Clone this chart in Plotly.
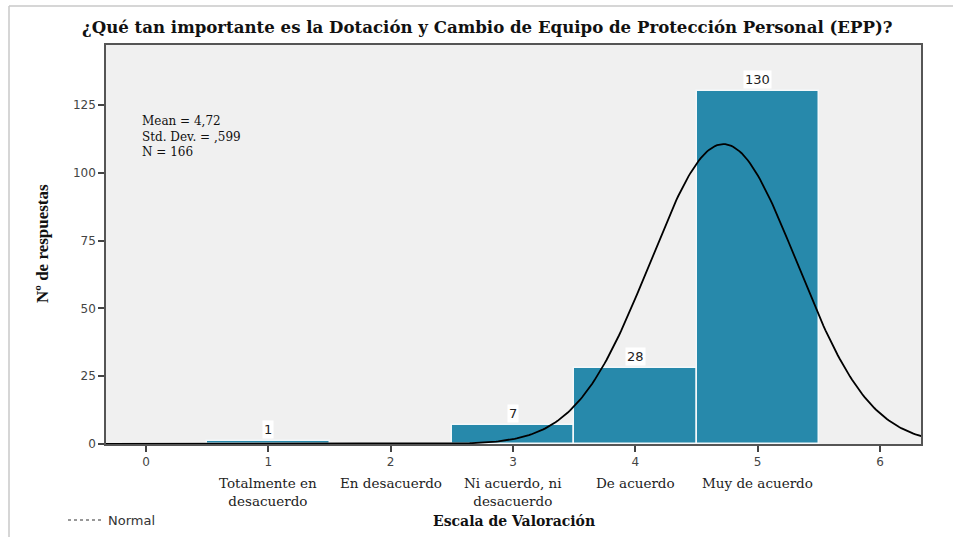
import numpy as np
import plotly.graph_objects as go

# Frequencies per rating level
levels = [1, 2, 3, 4, 5]
level_names = ["Totalmente en<br>desacuerdo", "En desacuerdo",
               "Ni acuerdo, ni<br>desacuerdo", "De acuerdo", "Muy de acuerdo"]
counts = [1, 0, 7, 28, 130]

# Summary statistics of the responses
mean_val = 4.72
std_val = 0.599
n_total = 166

W, H = 953, 537
ML, MR, MT, MB = 106, 32, 45, 93
PW, PH = W - ML - MR, H - MT - MB

def px(p):
    return (p - ML) / PW

def py(p):
    return (H - MB - p) / PH

BAR = "#2789ab"
SERIF = "Liberation Serif, Times New Roman, serif"
WSERIF = "DejaVu Serif, serif"
SANS = "DejaVu Sans, Verdana, sans-serif"

fig = go.Figure()

fig.add_trace(go.Bar(
    x=levels, y=counts, width=1.0,
    marker=dict(color=BAR, line=dict(color="#f4f8fa", width=1.5)),
    showlegend=False, hoverinfo="x+y",
))

# Normal curve scaled to counts (N * bin width)
xs = np.linspace(-0.33, 6.34, 400)
ys = n_total / (std_val * np.sqrt(2 * np.pi)) * np.exp(-0.5 * ((xs - mean_val) / std_val) ** 2)
fig.add_trace(go.Scatter(x=xs, y=ys, mode="lines",
                         line=dict(color="black", width=1.8),
                         showlegend=False, hoverinfo="skip"))

annotations = []
# Count labels above the bars
for lv, c in zip(levels, counts):
    if c > 0:
        annotations.append(dict(
            x=lv, y=c, xref="x", yref="y", text=str(c), showarrow=False,
            yanchor="bottom", yshift=2, bgcolor="white", borderpad=1,
            font=dict(family=SANS, size=13, color="#222"),
        ))
# Category names under the tick numbers
for lv, name in zip(levels, level_names):
    annotations.append(dict(
        x=lv, y=py(473), xref="x", yref="paper", text=name, showarrow=False,
        yanchor="top", xanchor="center",
        font=dict(family=WSERIF, size=13.5, color="#222"),
    ))
# Stats box
annotations.append(dict(
    x=px(140), y=py(112), xref="paper", yref="paper",
    text="Mean = 4,72<br>Std. Dev. = ,599<br>N = 166",
    showarrow=False, xanchor="left", yanchor="top", align="left",
    font=dict(family=WSERIF, size=12, color="#111"),
))
# Title
annotations.append(dict(
    x=px(487), y=py(27), xref="paper", yref="paper",
    text="<b>¿Qué tan importante es la Dotación y Cambio de Equipo de Protección Personal (EPP)?</b>",
    showarrow=False, xanchor="center", yanchor="middle",
    font=dict(family=WSERIF, size=16.6, color="#111"),
))
# Axis titles
annotations.append(dict(
    x=px(514), y=py(521), xref="paper", yref="paper",
    text="<b>Escala de Valoración</b>", showarrow=False,
    xanchor="center", yanchor="middle",
    font=dict(family=WSERIF, size=14, color="#111"),
))
annotations.append(dict(
    x=px(42), y=py(244), xref="paper", yref="paper",
    text="<b>Nº de respuestas</b>", showarrow=False, textangle=-90,
    xanchor="center", yanchor="middle",
    font=dict(family=SERIF, size=17, color="#111"),
))
# Legend entry
annotations.append(dict(
    x=px(106), y=py(520), xref="paper", yref="paper",
    text="Normal", showarrow=False, xanchor="left", yanchor="middle",
    font=dict(family=SANS, size=13, color="#333"),
))

shapes = [
    # Outer frame lines
    dict(type="line", xref="paper", yref="paper", x0=px(9), x1=px(953), y0=py(6), y1=py(6),
         line=dict(color="#c8c8c8", width=1.5)),
    dict(type="line", xref="paper", yref="paper", x0=px(9), x1=px(9), y0=py(6), y1=py(537),
         line=dict(color="#c8c8c8", width=1.5)),
    # Legend sample line
    dict(type="line", xref="paper", yref="paper", x0=px(68), x1=px(103), y0=py(520), y1=py(520),
         line=dict(color="#333", width=1.2, dash="dot")),
]

fig.update_layout(
    width=W, height=H,
    margin=dict(l=ML, r=MR, t=MT, b=MB),
    paper_bgcolor="white", plot_bgcolor="#f0f0f0",
    bargap=0, showlegend=False,
    annotations=annotations, shapes=shapes,
    xaxis=dict(range=[-0.327, 6.335], tickvals=[0, 1, 2, 3, 4, 5, 6],
               ticks="outside", ticklen=6, tickwidth=2, tickcolor="#444",
               showgrid=False, zeroline=False, showline=True, linecolor="#555",
               linewidth=1.5, mirror=True,
               tickfont=dict(family=SANS, size=12, color="#444")),
    yaxis=dict(range=[0, 147.1], tickvals=[0, 25, 50, 75, 100, 125],
               ticks="outside", ticklen=6, tickwidth=1.5, tickcolor="#444",
               showgrid=False, zeroline=False, showline=True, linecolor="#555",
               linewidth=1.5, mirror=True,
               tickfont=dict(family=SANS, size=12, color="#444")),
)

fig.write_html("out.html")
